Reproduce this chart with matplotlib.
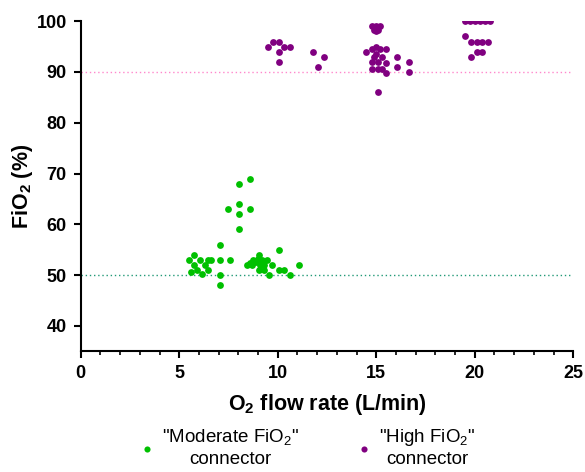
import numpy as np
import matplotlib
matplotlib.use("Agg")
import matplotlib.pyplot as plt

plt.rcParams['font.family'] = ['Liberation Sans', 'DejaVu Sans']
plt.rcParams['mathtext.fontset'] = 'custom'
plt.rcParams['mathtext.rm'] = 'Liberation Sans'
plt.rcParams['mathtext.bf'] = 'Liberation Sans:bold'

# "Moderate FiO2" connector
mod_flow = [5.5, 5.76, 6.05, 5.76, 6.47, 6.6, 6.33, 5.9, 6.18, 6.47, 5.62,
            7.05, 7.05, 7.05, 7.05, 7.6, 7.49, 8.04, 8.6, 8.04, 8.04, 8.04, 8.6,
            8.42, 8.6, 8.75, 9.04, 8.9, 9.2, 9.43, 9.1, 9.3, 9.04, 9.3, 9.69, 8.7, 9.0,
            10.04, 11.06, 10.62, 10.33, 10.04, 9.54]
mod_fio2 = [53, 54, 53, 52, 53, 53, 52, 51, 50.3, 51, 50.5,
            53, 50, 48, 56, 53, 63, 64, 63, 62, 59, 68, 69,
            52, 52.3, 53, 54, 52.5, 53, 53, 52, 52, 51, 51, 52, 52, 53.2,
            55, 52, 50, 51, 51, 50]

# "High FiO2" connector
high_flow = [9.49, 9.77, 10.04, 10.33, 10.62, 10.04, 10.04, 11.77, 12.35, 12.06,
             14.8, 15.0, 15.2, 14.9, 15.1, 15.0, 14.5, 14.8, 15.0, 15.2, 15.5, 14.9,
             15.1, 15.0, 15.3, 14.8, 15.5, 14.8, 15.07, 15.3, 15.5, 15.07,
             16.07, 16.07, 16.65, 16.65,
             19.5, 19.75, 20.0, 20.25, 20.5, 20.75, 19.51, 19.8, 20.09, 20.37, 20.65,
             20.09, 20.37, 19.8]
high_fio2 = [95, 96, 96, 95, 95, 94, 92, 94, 93, 91,
             99, 99, 99, 98.3, 98.3, 98, 94, 94.5, 95, 94.5, 94.5, 93,
             92, 93.5, 93, 92, 91.8, 90.5, 90.5, 90.5, 89.8, 86,
             93, 91, 92, 90,
             100, 100, 100, 100, 100, 100, 97, 96, 96, 96, 96,
             94, 94, 93]

green = '#00c000'
purple = '#800080'

fig = plt.figure(figsize=(5.85, 4.72), dpi=100)
ax = fig.add_axes([0.138, 0.256, 0.842, 0.699])

ax.axhline(90, color='#ff88cc', ls=(0, (1, 2)), lw=1, zorder=1)
ax.axhline(50, color='#229977', ls=(0, (1, 2)), lw=1, zorder=1)

ax.scatter(mod_flow, mod_fio2, s=24, color=green, lw=0, zorder=3,
           label='"Moderate FiO$_\\mathrm{2}$"\nconnector')
ax.scatter(high_flow, high_fio2, s=24, color=purple, lw=0, zorder=3,
           label='"High FiO$_\\mathrm{2}$"\nconnector')

ax.set_xlim(0, 25)
ax.set_ylim(35, 100)
ax.set_xticks(np.arange(0, 26, 5))
ax.set_xticks(np.arange(0, 26, 1), minor=True)
ax.set_yticks(np.arange(40, 101, 10))

for side in ['top', 'right']:
    ax.spines[side].set_visible(False)
for side in ['left', 'bottom']:
    ax.spines[side].set_linewidth(1.5)
ax.tick_params(which='major', length=5, width=1.5, labelsize=13, pad=5)
ax.tick_params(which='minor', length=3, width=1.2)
for lab in ax.get_xticklabels() + ax.get_yticklabels():
    lab.set_fontweight('bold')

ax.set_xlabel('O$_\\mathbf{2}$ flow rate (L/min)', fontsize=15.5, fontweight='bold', labelpad=7)
ax.set_ylabel('FiO$_\\mathbf{2}$ (%)', fontsize=15.5, fontweight='bold', labelpad=1)

leg = fig.legend(loc='lower center', ncol=2, frameon=False, fontsize=13.5,
                 bbox_to_anchor=(0.524, -0.028), handlelength=1.0, handletextpad=0.3,
                 columnspacing=3.0, markerscale=0.9)
for t in leg.get_texts():
    t.set_multialignment('center')
    t.set_linespacing(1.25)

fig.savefig('out.png', dpi=100)
